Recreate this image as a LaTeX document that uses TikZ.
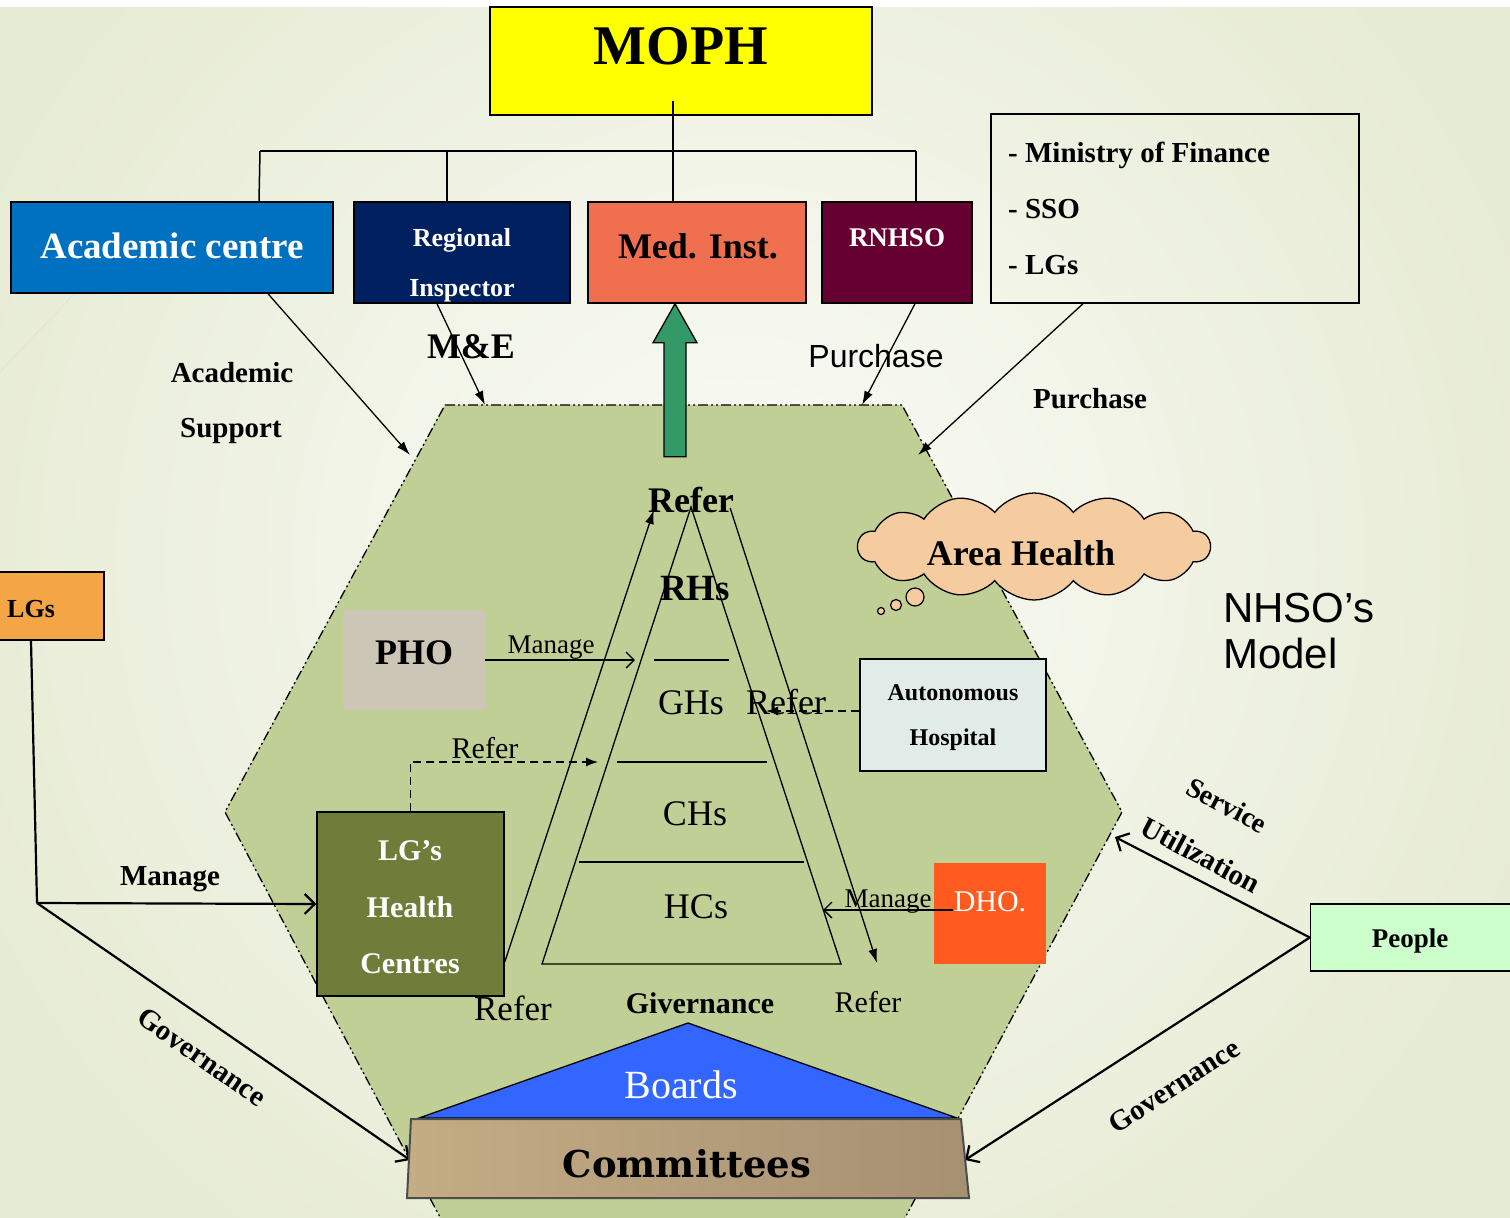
\documentclass[tikz,border=0pt]{standalone}
\usepackage{fontspec}
\setmainfont{Liberation Serif}
\newfontfamily\arialf{Liberation Sans}
\newfontfamily\dejaserif{DejaVu Serif}
\usetikzlibrary{arrows.meta,shapes.symbols,calc}
\newcommand{\fsz}[1]{\fontsize{#1}{#1}\selectfont}
\definecolor{bgc}{HTML}{E6EBD3}
\definecolor{bgin}{HTML}{FBFCF8}
\definecolor{mophc}{HTML}{FFFF00}
\definecolor{acadc}{HTML}{0070C0}
\definecolor{regic}{HTML}{002060}
\definecolor{medic}{HTML}{EF6F4F}
\definecolor{rnhsoc}{HTML}{660033}
\definecolor{hexc}{HTML}{C0CF96}
\definecolor{phoc}{HTML}{CCC6B7}
\definecolor{autoc}{HTML}{E1ECE9}
\definecolor{lghcc}{HTML}{6E7E3A}
\definecolor{lgsc}{HTML}{F4A546}
\definecolor{dhoc}{HTML}{FF5A1F}
\definecolor{cloudc}{HTML}{F5CBA0}
\definecolor{peoplec}{HTML}{CCFFCC}
\definecolor{boardc}{HTML}{3366FF}
\definecolor{commA}{HTML}{C4AC84}
\definecolor{commB}{HTML}{A69072}
\definecolor{greenc}{HTML}{339966}
\begin{document}
\begin{tikzpicture}[x=1pt,y=-1pt,
  lbl/.style={inner sep=0pt, anchor=base},
  lblw/.style={inner sep=0pt, anchor=base west},
  box/.style={draw=black, line width=1.5pt, inner sep=0pt},
  flat/.style={inner sep=0pt},
  thinarrow/.style={line width=1.3pt, -{Latex[length=14pt,width=9pt]}},
  openarrow/.style={line width=1.3pt, -{Straight Barb[length=8pt,width=16pt]}},
  boldarrow/.style={line width=2.2pt, -{Straight Barb[length=10pt,width=20pt]}},
  dasharrow/.style={line width=1.3pt, dash pattern=on 8pt off 5pt, -{Latex[length=12pt,width=9pt]}},
  rot/.style={inner sep=0pt, font=\bfseries\fsz{29}}]
\useasboundingbox (0,0) rectangle (1510,1218);
% background
\fill[white] (0,0) rectangle (1510,1218);
\fill[bgc] (0,7) rectangle (1510,1218);
\begin{scope}
  \clip (0,7) rectangle (1510,1218);
  \shade[inner color=bgin, outer color=bgc] (740,560) circle (850pt);
\end{scope}
\draw[gray!35, densely dotted, line width=0.6pt] (0,372) -- (75,293);
% hexagon
\draw[fill=hexc, line width=1.3pt, dash pattern=on 10pt off 3pt on 2pt off 3pt on 2pt off 3pt]
  (445,405) -- (902,405) -- (1122,812) -- (861,1300) -- (484,1300) -- (225,812) -- cycle;
\coordinate (hA) at (410,455);
\coordinate (hM) at (485,405);
\coordinate (hP) at (862,405);
\coordinate (hF) at (918,455);
% top boxes
\node[box, fill=mophc, minimum width=382pt, minimum height=108pt] (moph) at (681,61) {};
\node[lbl, font=\bfseries\fsz{56}] (mophT) at (681,64) {MOPH};
\node[box, fill=acadc, minimum width=322pt, minimum height=91pt] (acad) at (172,247.5) {};
\node[lbl, text=white, font=\bfseries\fsz{37}] (acadT) at (172,258) {Academic centre};
\node[box, fill=regic, minimum width=216pt, minimum height=101pt] (regi) at (462,252.5) {};
\node[lbl, text=white, font=\bfseries\fsz{26}] (regiT1) at (462,246) {Regional};
\node[lbl, text=white, font=\bfseries\fsz{26}] (regiT2) at (462,296) {Inspector};
\node[box, fill=medic, minimum width=218pt, minimum height=101pt] (medi) at (697,252.5) {};
\node[lbl, font=\bfseries\fsz{36}] (mediT) at (698,258) {Med. Inst.};
\node[box, fill=rnhsoc, minimum width=150pt, minimum height=101pt] (rnhso) at (897,252.5) {};
\node[lbl, text=white, font=\bfseries\fsz{27}] (rnhsoT) at (897,246) {RNHSO};
\node[box, minimum width=368pt, minimum height=189pt] (fin) at (1175,208.5) {};
\node[lblw, font=\bfseries\fsz{29}] (fin1) at (1008,162) {- Ministry of Finance};
\node[lblw, font=\bfseries\fsz{29}] (fin2) at (1008,218) {- SSO};
\node[lblw, font=\bfseries\fsz{29}] (fin3) at (1008,274) {- LGs};
% tree
\coordinate (b1) at (260,151);
\coordinate (b2) at (447,151);
\coordinate (b3) at (673,151);
\coordinate (b4) at (916,151);
\draw[line width=1.5pt] (b1) -- (b4);
\draw[line width=1.5pt] (b1) -- ([xshift=87pt]acad.north);
\draw[line width=1.5pt] (b2) -- ([xshift=-15pt]regi.north);
\draw[line width=1.5pt] ([xshift=-8pt,yshift=15pt]moph.south) -- ([xshift=-24pt]medi.north);
\draw[line width=1.5pt] (b4) -- ([xshift=19pt]rnhso.north);
% arrows into hexagon
\draw[thinarrow] ([xshift=96pt]acad.south) -- (hA);
\draw[thinarrow] ([xshift=-25pt]regi.south) -- (hM);
\draw[thinarrow] ([xshift=18pt]rnhso.south) -- (hP);
\draw[thinarrow] ([xshift=-92pt]fin.south) -- (hF);
\node[lbl, font=\bfseries\fsz{29}] (acs1) at (232,382) {Academic};
\node[lbl, font=\bfseries\fsz{29}] (acs2) at (231,437) {Support};
\node[lbl, font=\bfseries\fsz{36}] (me) at (471,358) {M\&E};
\node[lbl, font=\arialf\fsz{32}] (pur1) at (876,367) {Purchase};
\node[lbl, font=\bfseries\fsz{29}] (pur2) at (1090,408) {Purchase};
% green block arrow
\draw[fill=greenc, line width=1.3pt] ([xshift=-22pt]medi.south) -- ++(22,39) -- ++(-11,0) -- ++(0,114) -- ++(-22,0) -- ++(0,-114) -- ++(-11,0) -- cycle;
% pyramid
\coordinate (pL) at (542,964);
\coordinate (pT) at (691,507);
\coordinate (pR) at (841,964);
\draw[line width=1.3pt] (pL) -- (pT) -- (pR) -- cycle;
\draw[line width=1.6pt] (654,660) -- (729,660);
\draw[line width=1.6pt] (617,762) -- (767,762);
\draw[line width=1.6pt] (579,862) -- (804,862);
\node[lbl, font=\bfseries\fsz{36}] (referTop) at (691,512) {Refer};
\node[lbl, font=\bfseries\fsz{37}] (rhs) at (695,600) {RHs};
\node[lbl, font=\fsz{36}] (ghs) at (691,714) {GHs};
\node[lbl, font=\fsz{36}] (referGH) at (786,714) {Refer};
\node[lbl, font=\fsz{36}] (chs) at (695,825) {CHs};
\node[lbl, font=\fsz{36}] (hcs) at (696,918) {HCs};
% PHO
\node[flat, fill=phoc, minimum width=142pt, minimum height=100pt] (pho) at (414,660) {};
\node[lbl, font=\bfseries\fsz{36}] (phoT) at (414,664) {PHO};
\draw[openarrow] (pho.east) -- (635,660);
\node[lbl, font=\fsz{27}] (man1) at (551,653) {Manage};
% Autonomous hospital
\node[box, fill=autoc, minimum width=186pt, minimum height=112pt] (auto) at (953,715) {};
\node[lbl, font=\bfseries\fsz{24}] (autoT1) at (953,700) {Autonomous};
\node[lbl, font=\bfseries\fsz{24}] (autoT2) at (953,745) {Hospital};
\draw[dasharrow] ([yshift=4pt]auto.west) -- (766,711);
% LG's health centres
\node[box, fill=lghcc, minimum width=187pt, minimum height=184pt] (lghc) at (410.5,904) {};
\node[lbl, text=white, font=\bfseries\fsz{30}] (lg1) at (410,860) {LG’s};
\node[lbl, text=white, font=\bfseries\fsz{30}] (lg2) at (410,917) {Health};
\node[lbl, text=white, font=\bfseries\fsz{30}] (lg3) at (410,973) {Centres};
\coordinate (refTip) at (598,762);
\draw[dasharrow] (lghc.north) |- (refTip);
\node[lbl, font=\fsz{30}] (refL) at (485,758) {Refer};
% outer refer arrows
\draw[thinarrow] ([yshift=-58pt]lghc.east) -- ([xshift=6pt,yshift=2pt]referTop.base west);
\draw[thinarrow] ([xshift=-4pt,yshift=4pt]referTop.base east) -- (877,963);
% LGs
\node[box, fill=lgsc, minimum width=106pt, minimum height=68pt] (lgs) at (51,606) {};
\node[lblw, font=\bfseries\fsz{26}] (lgsT) at (7,617) {LGs};
\coordinate (jn) at (37,903);
\coordinate (commL) at (410,1160);
\coordinate (commR) at (965,1160);
\draw[line width=2.2pt] ([xshift=-20pt]lgs.south) -- (jn);
\draw[boldarrow] (jn) -- (lghc.west);
\draw[boldarrow] (jn) -- (commL);
\node[lbl, font=\bfseries\fsz{29}] (man2) at (170,885) {Manage};
\node[rot, rotate=-35] (gov1) at (202,1057) {Governance};
% DHO
\node[flat, fill=dhoc, minimum width=112pt, minimum height=101pt] (dho) at (990,913.5) {};
\node[lbl, text=white, font=\fsz{30}] (dhoT) at (990,911) {DHO.};
\draw[openarrow] ([xshift=-37pt,yshift=3.5pt]dho.center) -- (823,910);
\node[lbl, font=\fsz{27}] (man3) at (888,907) {Manage};
% cloud
\node[cloud, cloud puffs=14, cloud puff arc=105, aspect=3.3, draw, line width=1.3pt, fill=cloudc, minimum width=352pt, minimum height=107pt, inner sep=0pt] (cloud) at (1034,546.5) {};
\node[lbl, font=\bfseries\fsz{36}] (cloudT) at (1021,565) {Area Health};
\node[circle, draw, fill=cloudc, line width=1.2pt, minimum size=18pt, inner sep=0pt] (bub1) at (915,597) {};
\node[circle, draw, fill=cloudc, line width=1.2pt, minimum size=11pt, inner sep=0pt] (bub2) at (896,605) {};
\node[circle, draw, fill=cloudc, line width=1.2pt, minimum size=7pt, inner sep=0pt] (bub3) at (881,611) {};
% NHSO's model
\node[lblw, font=\arialf\fsz{42}] (nh1) at (1223,622) {NHSO’s};
\node[lblw, font=\arialf\fsz{42}] (nh2) at (1223,668) {Model};
% People
\node[box, fill=peoplec, minimum width=201pt, minimum height=67pt] (people) at (1411,937.5) {};
\node[lbl, font=\bfseries\fsz{27}] (peopleT) at (1410,947) {People};
\draw[boldarrow] (people.west) -- (1115,837);
\draw[boldarrow] (people.west) -- (commR);
\node[rot, rotate=-28, font=\bfseries\fsz{28}] (serv) at (1227,805) {Service};
\node[rot, rotate=-28] (util) at (1201,855) {Utilization};
\node[rot, rotate=33] (gov2) at (1174,1086) {Governance};
% Boards and committees
\draw[fill=boardc, line width=1.3pt] (419,1118) -- (688,1023) -- (957,1118) -- cycle;
\shade[left color=commA, right color=commB, draw=gray!60!black, line width=2pt] (411,1119) -- (961,1119) -- (969,1198) -- (407,1198) -- cycle;
\node[lbl, text=white, font=\fsz{40}] (boardsT) at (681,1098) {Boards};
\node[lbl, font=\dejaserif\bfseries\fsz{37}] (commT) at (687,1177) {Committees};
\node[lbl, font=\bfseries\fsz{30}] (giv) at (700,1013) {Givernance};
\node[lbl, font=\fsz{35}] (refB1) at (513,1020) {Refer};
\node[lbl, font=\fsz{30}] (refB2) at (868,1012) {Refer};
\end{tikzpicture}
\end{document}
